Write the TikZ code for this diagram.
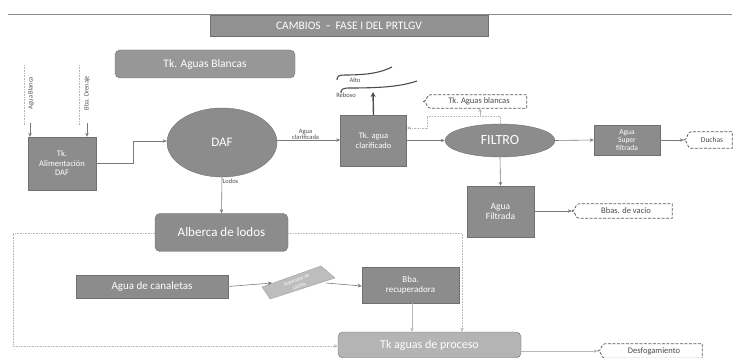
\documentclass[tikz,border=0pt]{standalone}
\usepackage{fontspec}
\setmainfont{Carlito}
\usetikzlibrary{shapes.geometric,arrows.meta}
\definecolor{boxg}{HTML}{8C8C8C}
\definecolor{lightg}{HTML}{BDBDBD}
\definecolor{procg}{HTML}{B4B4B4}
\definecolor{lineg}{HTML}{7A7A7A}
\definecolor{dotg}{HTML}{B8B8B8}
\tikzset{
  graybox/.style={draw=boxg!80!black, fill=boxg, text=white, align=center, inner sep=1pt, font=\fontsize{8.5}{9.5}\selectfont},
  roundbox/.style={graybox, rounded corners=5pt},
  grayell/.style={ellipse, draw=boxg!80!black, fill=boxg, text=white, inner sep=0pt},
  conn/.style={draw=lineg, line width=0.6pt, -{Stealth[length=4pt,width=3.5pt]}},
  dotconn/.style={draw=dotg, line width=0.6pt, densely dotted},
  dotarrow/.style={dotconn, -{Stealth[length=4pt,width=3.5pt]}},
  calltext/.style={inner sep=1pt, text=black!70, font=\fontsize{8.5}{9}\selectfont},
  callline/.style={draw=black!65, line width=0.7pt, dash pattern=on 3pt off 1.5pt},
  smalllab/.style={text=black!70, inner sep=0.5pt, font=\fontsize{6.5}{6.5}\selectfont}
}
\newcommand{\mycallout}[1]{%
  \draw[callline] ([xshift=-8pt]#1.west) .. controls ([xshift=-4pt]#1.west) and ([xshift=-5pt]#1.north west) .. ([xshift=-1pt]#1.north west) -- (#1.north east) -- (#1.south east) -- ([xshift=-1pt]#1.south west) .. controls ([xshift=-5pt]#1.south west) and ([xshift=-4pt]#1.west) .. ([xshift=-8pt]#1.west);}
\begin{document}
\begin{tikzpicture}[x=1pt,y=-1pt]
\useasboundingbox[fill=white] (0,0) rectangle (734,358);
% top rule
\draw[draw=black!45, line width=0.5pt] (8,14) -- (732,14);
% title
\node[graybox, minimum width=278pt, minimum height=21pt, fill=boxg!95!white, font=\fontsize{11.5}{11.5}\selectfont] (title) at (349,25.5) {CAMBIOS \,--\, FASE I DEL PRTLGV};
\node[roundbox, minimum width=180pt, minimum height=28pt, fill=boxg!90!white, font=\fontsize{11.5}{11.5}\selectfont] (tkab) at (205,64) {Tk. Aguas Blancas};
% inputs
\coordinate (in1top) at (24,65);
\coordinate (in2top) at (79,65);
\draw[dotconn] (in1top) -- (24,125);
\draw[dotconn] (in2top) -- (79,125);
\node[smalllab, rotate=90] (lab1) at (31,93) {Agua Blanca};
\node[smalllab, rotate=90] (lab2) at (87,93) {Bba. Drenaje};
\node[graybox, minimum width=68pt, minimum height=53pt] (tkalim) at (62,163.5) {Tk.\\Alimentación\\DAF};
\coordinate (a1) at (30,123);
\coordinate (a2) at (87,123);
\draw[conn] (a1) -- (a1 |- tkalim.north);
\draw[conn] (a2) -- (a2 |- tkalim.north);
% DAF
\node[grayell, minimum width=110pt, minimum height=69pt, font=\fontsize{13}{13}\selectfont] (daf) at (222,142.5) {DAF};
\coordinate (bend1) at (133,163);
\draw[conn] (tkalim.east |- bend1) -- (bend1) -- (133,141) -- (daf.west |- 0,141);
% Tk agua clarificado
\node[graybox, minimum width=66pt, minimum height=51pt] (tkcl) at (373.5,140.5) {Tk. agua\\clarificado};
\draw[conn] (daf.east |- 0,140) -- (tkcl.west |- 0,140) node[pos=0.45, above, smalllab, align=center, font=\fontsize{6.5}{6}\selectfont] {Agua\\clarificada};
% Reboso
\draw[draw=black!70, line width=1.4pt, -{Stealth[length=5pt,width=5pt]}] (tkcl.north) -- (373,92);
\draw[draw=black!70, line width=1.1pt] (337,80) .. controls (337,76) and (339,75) .. (345,75) .. controls (370,75) and (382,72) .. (392,67);
\draw[draw=black!70, line width=1.1pt] (341,93) .. controls (341,89) and (343,88) .. (350,88) .. controls (385,88) and (402,86) .. (417,81);
\node[smalllab] (alto) at (355,80.5) {Alto};
\node[smalllab] (reboso) at (346,95.5) {Reboso};
% FILTRO
\node[grayell, minimum width=110pt, minimum height=33pt, font=\fontsize{14}{14}\selectfont] (filtro) at (500,140.5) {FILTRO};
\draw[conn] (tkcl.east |- 0,140.5) -- (filtro.west);
% Tk aguas blancas callout
\node[calltext, minimum width=95pt, minimum height=13pt] (tkbl) at (479,101.5) {Tk. Aguas blancas};
\mycallout{tkbl}
\coordinate (f1) at (500,116);
\coordinate (f2) at (427,116);
\draw[dotarrow] (filtro.north) -- (f1) -- (f2) -- (427,128) -- (tkcl.east |- 0,128);
\draw[conn, draw=dotg] (480,116) -- (tkbl.south -| 480,0);
% Agua super filtrada
\node[graybox, minimum width=66pt, minimum height=30pt, font=\fontsize{7.5}{8}\selectfont] (asf) at (627,140) {Agua\\Super\\filtrada};
\draw[conn] (filtro.east) -- (asf.west);
\node[calltext, minimum width=40pt, minimum height=16pt, font=\fontsize{7.5}{8}\selectfont] (duchas) at (712,140) {Duchas};
\mycallout{duchas}
\draw[conn] (asf.east) -- ([xshift=-8pt]duchas.west);
% Agua filtrada
\node[graybox, minimum width=67pt, minimum height=51pt, font=\fontsize{9.5}{10.5}\selectfont] (afil) at (500.5,211.5) {Agua\\Filtrada};
\draw[conn] (filtro.south) -- (afil.north);
\node[calltext, minimum width=92pt, minimum height=14pt] (bbvac) at (626,211) {Bbas. de vacío};
\mycallout{bbvac}
\draw[conn] (afil.east |- 0,211) -- ([xshift=-8pt]bbvac.west);
% Alberca
\node[roundbox, minimum width=133pt, minimum height=38pt, font=\fontsize{13}{13}\selectfont] (alberca) at (221.5,232.5) {Alberca de lodos};
\draw[conn] (daf.south) -- (alberca.north) node[pos=0.12, right, smalllab] {Lodos};
% Agua de canaletas etc
\node[graybox, minimum width=152pt, minimum height=23pt, font=\fontsize{11}{11}\selectfont] (canal) at (152,286.5) {Agua de canaletas};
\fill[lightg] (262,287) -- (321,266) -- (335,278) -- (270,299) -- cycle;
\draw[lightg!85!black, line width=0.4pt] (262,287) -- (321,266) -- (335,278) -- (270,299) -- cycle;
\node[text=white, rotate=21, inner sep=0.5pt, align=center, font=\fontsize{5}{7}\selectfont] (sep) at (298,283) {Separador de\\sólidos};
\node[graybox, minimum width=97pt, minimum height=36pt, font=\fontsize{9}{10}\selectfont] (bbrec) at (410.5,285) {Bba.\\recuperadora};
\draw[conn] (canal.east) -- (sep.center -| 272,0);
\draw[conn] (sep.center -| 326,0) -- (bbrec.west |- 0,286);
% Tk aguas de proceso
\node[roundbox, minimum width=183pt, minimum height=26pt, fill=procg, font=\fontsize{12}{12}\selectfont] (tkproc) at (429.5,345) {Tk aguas de proceso};
\draw[conn, draw=dotg] (bbrec.south -| 412,0) -- (tkproc.north -| 412,0);
\coordinate (l1) at (13,233);
\coordinate (l2) at (13,346);
\draw[dotarrow] (alberca.west |- l1) -- (l1) -- (l2) -- (tkproc.west |- l2);
\coordinate (r1) at (462,233);
\draw[dotarrow] (alberca.east |- r1) -- (r1) -- (tkproc.north -| r1);
\node[calltext, minimum width=96pt, minimum height=14pt] (desf) at (654,351) {Desfogamiento};
\mycallout{desf}
\draw[conn, draw=dotg] (tkproc.east |- desf.west) -- ([xshift=-8pt]desf.west);
\end{tikzpicture}
\end{document}
